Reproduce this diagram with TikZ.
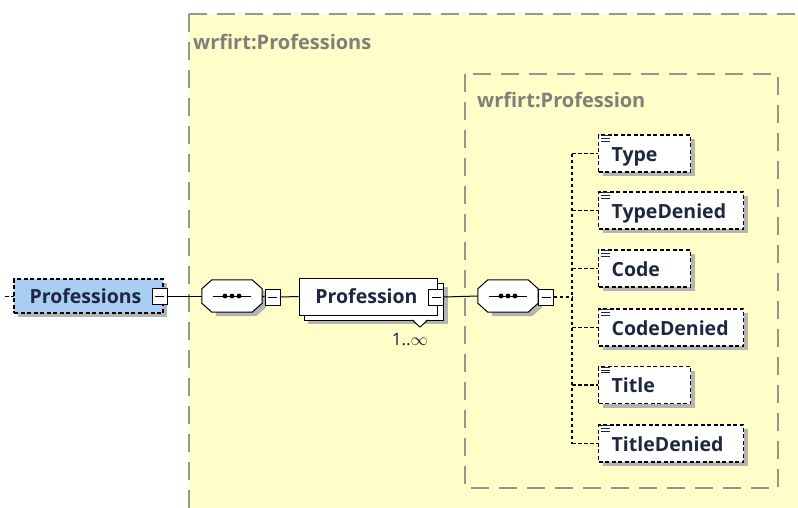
\documentclass[tikz,border=0pt]{standalone}
\usepackage{fontspec}
\setmainfont{Open Sans}
\usetikzlibrary{calc,shadows}
\definecolor{yel}{RGB}{255,253,200}
\definecolor{ybord}{RGB}{150,150,140}
\definecolor{lblgray}{RGB}{128,128,120}
\definecolor{pblue}{RGB}{168,206,244}
\definecolor{navy}{RGB}{30,38,64}
\definecolor{shad}{RGB}{180,180,180}
\tikzset{
  groupbox/.style={draw=ybord, line width=1.4pt, dash pattern=on 18pt off 10pt, fill=yel},
  grouplbl/.style={text=lblgray, font=\bfseries\fontsize{20}{23}\selectfont, anchor=west, inner sep=0pt},
  minusbox/.style={draw=black, fill=white, line width=0.9pt, minimum width=15pt, minimum height=16pt, inner sep=0pt,
    path picture={\draw[line width=0.9pt] ([xshift=3pt]path picture bounding box.west) -- ([xshift=-3pt]path picture bounding box.east);}},
  seqnode/.style={minimum width=60pt, minimum height=32pt, inner sep=0pt},
  conn/.style={draw=black, line width=1pt},
  dconn/.style={draw=black, line width=1.1pt, dash pattern=on 3.5pt off 2.5pt},
  child/.style={draw=black, fill=white, line width=1.3pt, dash pattern=on 4pt off 2.5pt,
    minimum height=37pt, inner ysep=0pt, align=left, text=navy, text height=16pt, text depth=1pt,
    font=\bfseries\fontsize{19.5}{22}\selectfont,
    drop shadow={shadow xshift=4pt, shadow yshift=-4pt, fill=shad, opacity=1}},
}
\newcommand{\octagon}[1]{%
  \fill[shad] ([xshift=14pt,yshift=-4pt]#1.north west) -- ([xshift=-6pt,yshift=-4pt]#1.north east) -- ([xshift=4pt,yshift=-13pt]#1.north east) -- ([xshift=4pt,yshift=5pt]#1.south east) -- ([xshift=-6pt,yshift=-4pt]#1.south east) -- ([xshift=14pt,yshift=-4pt]#1.south west) -- cycle;
  \draw[fill=white, line width=1pt] ([xshift=10pt]#1.north west) -- ([xshift=-10pt]#1.north east) -- ([yshift=-9pt]#1.north east) -- ([yshift=9pt]#1.south east) -- ([xshift=-10pt]#1.south east) -- ([xshift=10pt]#1.south west) -- ([yshift=9pt]#1.south west) -- ([yshift=-9pt]#1.north west) -- cycle;
  \draw[line width=1pt] ([xshift=11pt]#1.west) -- ([xshift=-11pt]#1.east);
  \foreach \dx in {-7,0,7} \fill ([xshift=\dx pt]#1.center) circle (2.4pt);
}
\newcommand{\elicon}[1]{%
  \foreach \dy in {1.5,4.3,7.1} \draw[line width=1pt, solid, navy] ([xshift=3pt,yshift=-\dy pt]#1.north west) -- ([xshift=12pt,yshift=-\dy pt]#1.north west);
}
\begin{document}
\begin{tikzpicture}[x=1pt,y=-1pt]
\useasboundingbox (0,0) rectangle (798,507);
\fill[white] (0,0) rectangle (798,507);
\begin{scope}
\clip (0,0) rectangle (798,507);
% outer group
\draw[groupbox] (189,14) -- (812,14) -- (812,520) -- (189,520) -- cycle;
\node[grouplbl] (lblouter) at (193,42) {wrfirt:Professions};
% inner group
\draw[groupbox] (465,74) rectangle (778,488);
\node[grouplbl] (lblinner) at (477,100) {wrfirt:Profession};

% Professions root
\draw[dconn, line width=1pt] (5,296) -- (14,296);
\node[draw=black, fill=pblue, line width=1.3pt, dash pattern=on 4pt off 2.5pt, minimum width=149pt, minimum height=34pt,
  inner sep=0pt, text=navy, font=\bfseries\fontsize{19.5}{22}\selectfont,
  drop shadow={shadow xshift=4pt, shadow yshift=-4pt, fill=shad, opacity=1}] (root) at (88.5,296) {\hspace*{-6pt}Professions};
\node[minusbox] (m1) at (159.5,296) {};

% sequence 1
\node[seqnode] (s1) at (232,296) {};
\octagon{s1}
\node[minusbox] (m2) at (272.5,297) {};

% Profession
\fill[shad] (308,287) rectangle (448,324);
\draw[fill=white, line width=1pt] (304,283) rectangle (443,320);
\fill[white] (412,318) -- (428,318) -- (420,326) -- cycle;
\draw[line width=0.9pt] (412,320) -- (420,327) -- (428,320);
\node[draw=black, fill=white, line width=1pt, minimum width=138pt, minimum height=37pt, inner sep=0pt,
  text=navy, font=\bfseries\fontsize{19.5}{22}\selectfont] (prof) at (368,296.5) {\hspace*{-3pt}Profession};
\node[minusbox] (m3) at (436,297) {};
\node[font=\fontsize{17}{20}\selectfont, text=navy!80!black, inner sep=0pt] (card) at (410,340) {1..$\infty$};

% sequence 2
\node[seqnode] (s2) at (508,296) {};
\octagon{s2}
\node[minusbox] (m4) at (546,297) {};

% connectors
\draw[conn] (m1.east) -- (s1.west);
\draw[conn] (s1.east) -- (m2.west);
\draw[conn] (m2.east) -- (prof.west);
\draw[conn] (m3.east) -- (s2.west);
\draw[conn] (s2.east) -- (m4.west);

% children
\coordinate (j) at (572,297);
\node[child, minimum width=92pt, text width=66pt, inner xsep=13pt, anchor=west] (c1) at (598,153.5) {Type};
\node[child, minimum width=145pt, text width=119pt, inner xsep=13pt, anchor=west] (c2) at (598,210.5) {TypeDenied};
\node[child, minimum width=92pt, text width=66pt, inner xsep=13pt, anchor=west] (c3) at (598,268.5) {Code};
\node[child, minimum width=145pt, text width=119pt, inner xsep=13pt, anchor=west] (c4) at (598,327.5) {CodeDenied};
\node[child, minimum width=92pt, text width=66pt, inner xsep=13pt, anchor=west] (c5) at (598,385) {Title};
\node[child, minimum width=145pt, text width=119pt, inner xsep=13pt, anchor=west] (c6) at (598,443.5) {TitleDenied};
\foreach \c in {c1,c2,c3,c4,c5,c6} {\elicon{\c}}

\draw[dconn] (m4.east) -- (j);
\draw[dconn] (j |- c1.west) -- (j |- c6.west);
\foreach \c in {c1,c2,c3,c4,c5,c6} {\draw[dconn] (j |- \c.west) -- (\c.west);}
\end{scope}
\end{tikzpicture}
\end{document}
